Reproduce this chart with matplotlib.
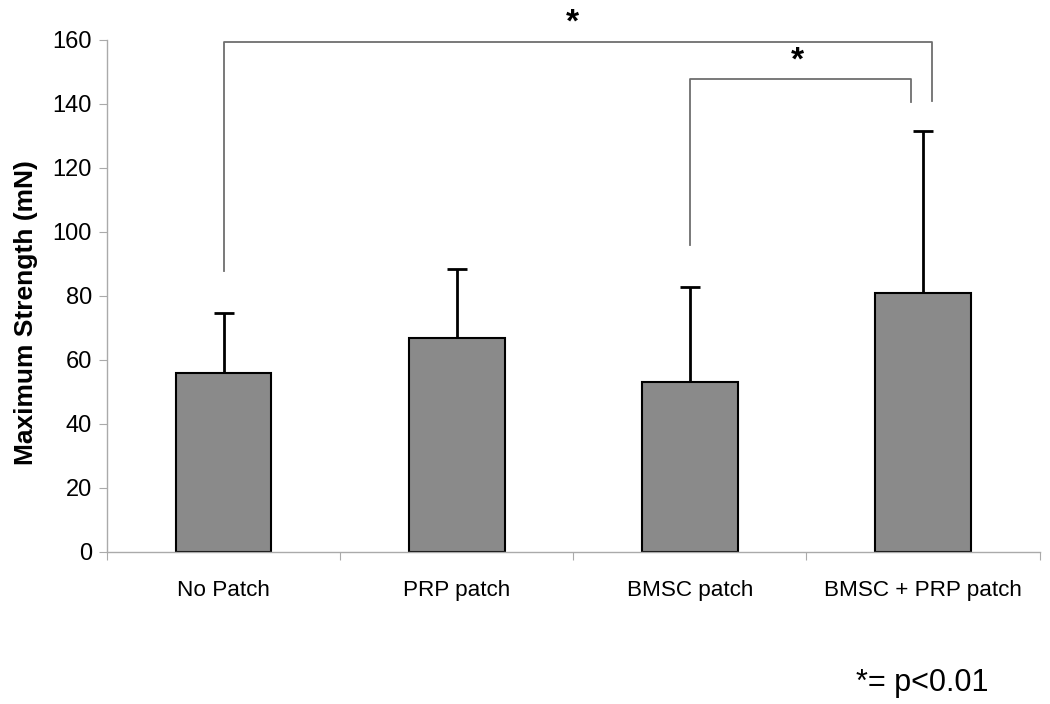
import matplotlib.pyplot as plt
import numpy as np

plt.rcParams['font.family'] = ['Liberation Sans', 'DejaVu Sans']

# data
groups = ["No Patch", "PRP patch", "BMSC patch", "BMSC + PRP patch"]
strength = [55.8, 66.8, 53.0, 80.8]
sd_upper = [18.9, 21.6, 29.9, 50.8]

# significance brackets: (x left, x right, top, left foot, right foot, star x, star y)
brackets = [
    (0.0, 3.04, 159.4, 87.8, 140.9, 1.496, 160.3),
    (2.0, 2.95, 147.8, 95.9, 140.6, 2.46, 148.6),
]

fig = plt.figure(figsize=(10.5, 7.04), dpi=100, facecolor='white')
ax = fig.add_axes([0.102, 0.2163, 0.888, 0.7269])

x = np.arange(len(groups))
ax.bar(x, strength, width=0.41, color='#8a8a8a', edgecolor='black', linewidth=1.5, zorder=2)
ax.errorbar(x, strength, yerr=[np.zeros(len(groups)), sd_upper], fmt='none',
            ecolor='black', elinewidth=2, capsize=7, capthick=2, zorder=1)

for xl, xr, top, fl, fr, sx, sy in brackets:
    ax.plot([xl, xl, xr, xr], [fl, top, top, fr], color='#6e6e6e', lw=1.3, clip_on=False)
    ax.text(sx, sy, "*", ha='center', va='bottom', fontsize=24, fontweight='bold', clip_on=False)

ax.set_xlim(-0.5, 3.5)
ax.set_ylim(0, 160)
ax.set_yticks(np.arange(0, 161, 20))
ax.set_xticks(np.arange(-0.5, 3.6, 1))
ax.set_xticklabels([])
ax.set_xticks(x, minor=True)
ax.set_xticklabels(groups, minor=True, fontsize=16.2)
ax.tick_params(axis='x', which='minor', length=0, pad=20)
ax.tick_params(axis='x', which='major', length=6, direction='out', color='#aaaaaa')
ax.tick_params(axis='y', length=6, direction='out', color='#aaaaaa', labelsize=17, pad=5)

for s in ['top', 'right']:
    ax.spines[s].set_visible(False)
for s in ['left', 'bottom']:
    ax.spines[s].set_color('#aaaaaa')
    ax.spines[s].set_linewidth(1.0)

ax.set_ylabel("Maximum Strength (mN)", fontsize=19, fontweight='bold')
ax.yaxis.set_label_coords(-0.074, 0.468)

fig.text(0.878, 0.03, "*= p<0.01", ha='center', va='center', fontsize=22)

fig.savefig("out.png", dpi=100)
